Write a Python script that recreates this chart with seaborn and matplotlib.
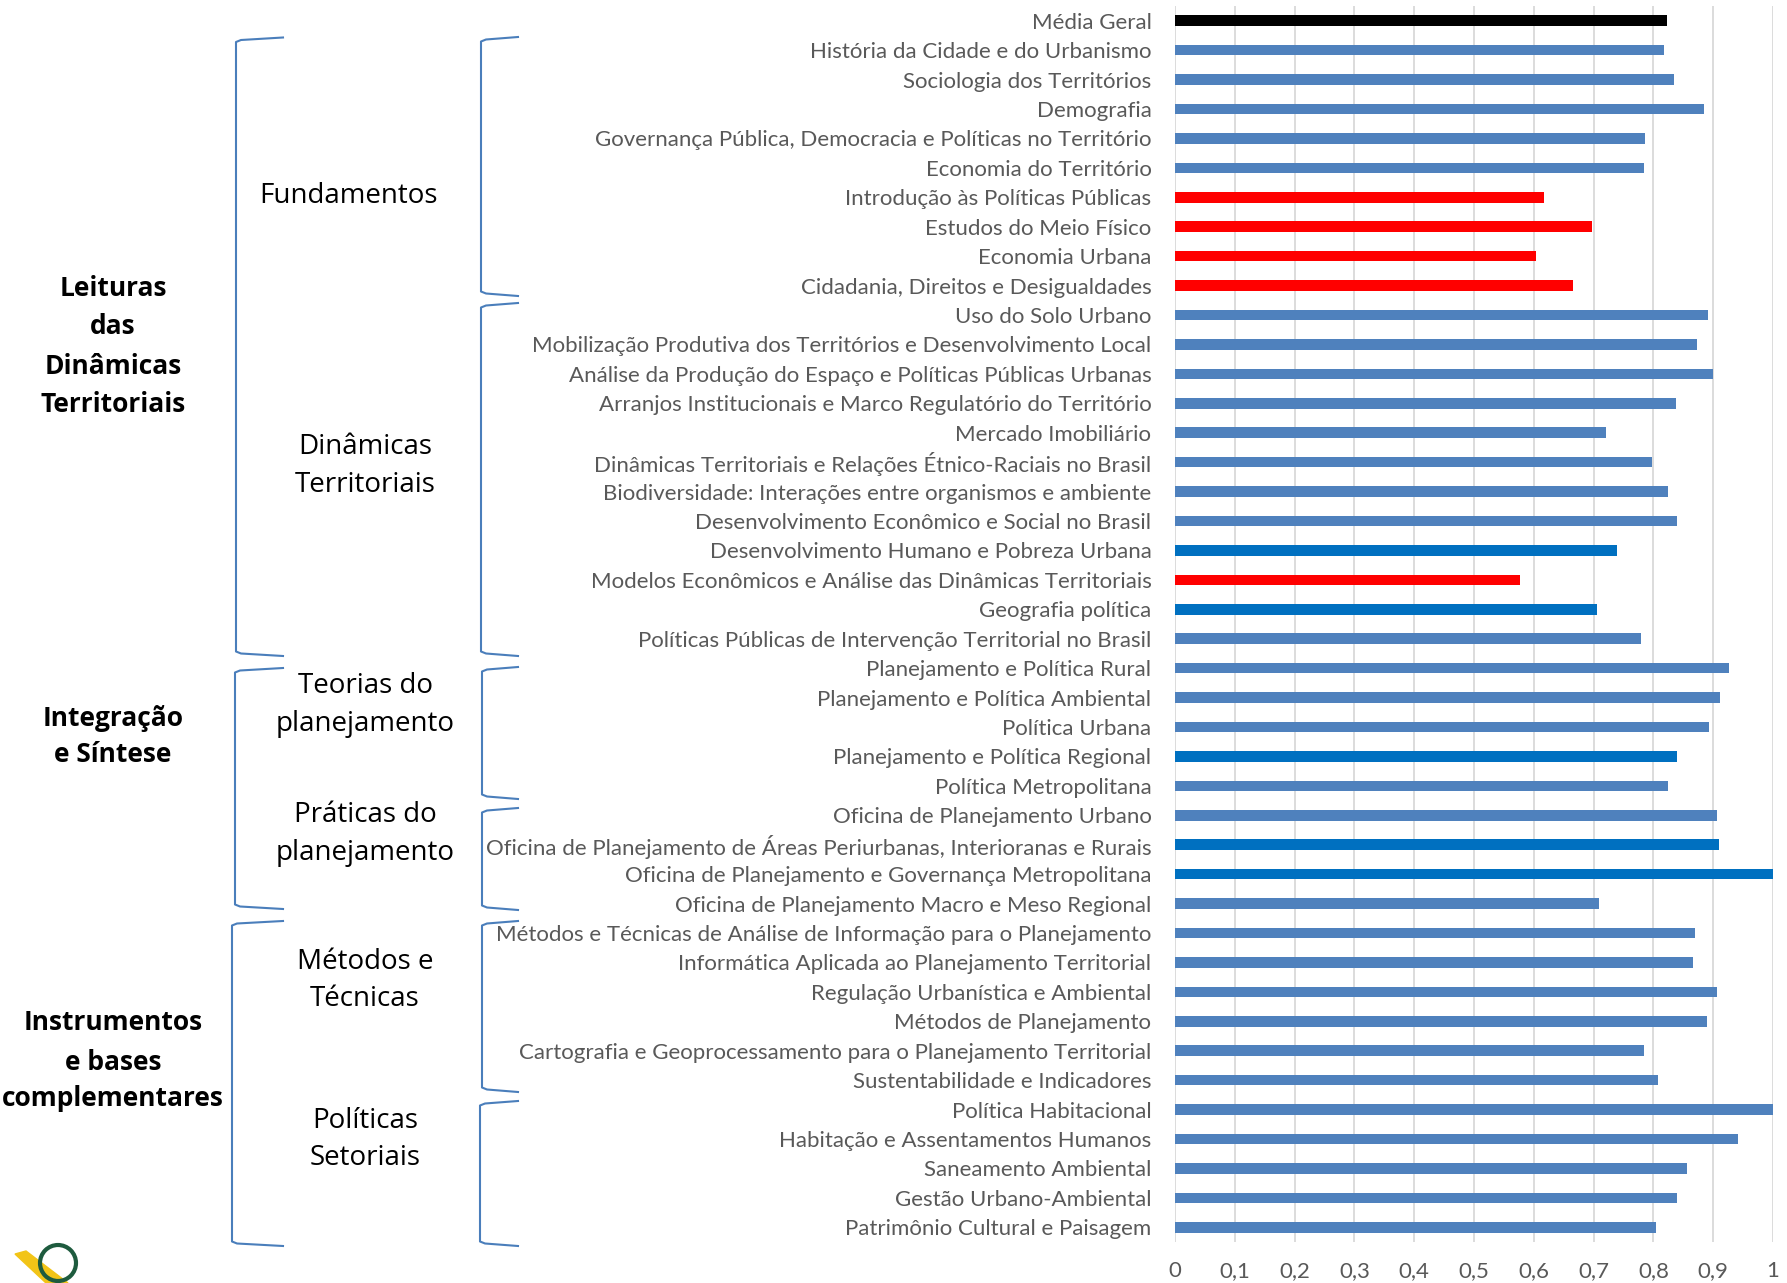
import numpy as np
import pandas as pd
import matplotlib
matplotlib.use("Agg")
import matplotlib.pyplot as plt
import seaborn as sns
from matplotlib.lines import Line2D
from matplotlib.patches import Circle, Polygon
from matplotlib.transforms import Affine2D

disciplinas = [
    "Média Geral",
    "História da Cidade e do Urbanismo",
    "Sociologia dos Territórios",
    "Demografia",
    "Governança Pública, Democracia e Políticas no Território",
    "Economia do Território",
    "Introdução às Políticas Públicas",
    "Estudos do Meio Físico",
    "Economia Urbana",
    "Cidadania, Direitos e Desigualdades",
    "Uso do Solo Urbano",
    "Mobilização Produtiva dos Territórios e Desenvolvimento Local",
    "Análise da Produção do Espaço e Políticas Públicas Urbanas",
    "Arranjos Institucionais e Marco Regulatório do Território",
    "Mercado Imobiliário",
    "Dinâmicas Territoriais e Relações Étnico-Raciais no Brasil",
    "Biodiversidade: Interações entre organismos e ambiente",
    "Desenvolvimento Econômico e Social no Brasil",
    "Desenvolvimento Humano e Pobreza Urbana",
    "Modelos Econômicos e Análise das Dinâmicas Territoriais",
    "Geografia política",
    "Políticas Públicas de Intervenção Territorial no Brasil",
    "Planejamento e Política Rural",
    "Planejamento e Política Ambiental",
    "Política Urbana",
    "Planejamento e Política Regional",
    "Política Metropolitana",
    "Oficina de Planejamento Urbano",
    "Oficina de Planejamento de Áreas Periurbanas, Interioranas e Rurais",
    "Oficina de Planejamento e Governança Metropolitana",
    "Oficina de Planejamento Macro e Meso Regional",
    "Métodos e Técnicas de Análise de Informação para o Planejamento",
    "Informática Aplicada ao Planejamento Territorial",
    "Regulação Urbanística e Ambiental",
    "Métodos de Planejamento",
    "Cartografia e Geoprocessamento para o Planejamento Territorial",
    "Sustentabilidade e Indicadores",
    "Política Habitacional",
    "Habitação e Assentamentos Humanos",
    "Saneamento Ambiental",
    "Gestão Urbano-Ambiental",
    "Patrimônio Cultural e Paisagem",
]

notas = [
    0.823, 0.817, 0.835, 0.885, 0.786, 0.785, 0.617, 0.698, 0.603, 0.665,
    0.891, 0.873, 0.900, 0.838, 0.721, 0.798, 0.824, 0.840, 0.739, 0.577,
    0.705, 0.779, 0.926, 0.912, 0.893, 0.839, 0.824, 0.907, 0.910, 1.000,
    0.709, 0.869, 0.867, 0.906, 0.889, 0.784, 0.808, 1.000, 0.941, 0.857,
    0.840, 0.804,
]

# m = média, a = azul, e = azul escuro, v = vermelho
tipo = list("maaaaavvvvaaaaaaaaeveaaaaeaaeeaaaaaaaaaaaa")
paleta = {"m": "#000000", "a": "#4F81BD", "e": "#0070C0", "v": "#FF0000"}

xticks = np.round(np.arange(0, 1.01, 0.1), 1)
xticklabels = ["0", "0,1", "0,2", "0,3", "0,4", "0,5", "0,6", "0,7", "0,8", "0,9", "1"]

df = pd.DataFrame({"disciplina": disciplinas, "nota": notas, "tipo": tipo})
cores = dict(zip(disciplinas, [paleta[t] for t in tipo]))

W, H = 1787, 1283
fig = plt.figure(figsize=(W / 100, H / 100), dpi=100)
fig.patch.set_facecolor("white")
ax = fig.add_axes([1175 / W, 1 - 1242 / H, (1773 - 1175) / W, (1242 - 6) / H])

sns.barplot(data=df, x="nota", y="disciplina", hue="disciplina", palette=cores,
            width=0.36, saturation=1, legend=False, linewidth=0, ax=ax)

ax.set_xlim(0, 1)
ax.set_ylim(len(disciplinas) - 0.5, -0.5)
ax.set_xticks(xticks)
ax.set_xticklabels(xticklabels, fontfamily="Lato")
ax.set_yticks(range(len(disciplinas)))
ax.set_yticklabels(disciplinas, fontfamily="Lato")
ax.set_xlabel("")
ax.set_ylabel("")
ax.grid(axis="x", color="#D9D9D9", lw=1.3)
ax.grid(axis="y", visible=False)
ax.set_axisbelow(True)
for s in ax.spines.values():
    s.set_visible(False)
ax.tick_params(axis="y", length=0, pad=17, labelsize=16, labelcolor="#595959")
ax.tick_params(axis="x", length=0, pad=14, labelsize=16, labelcolor="#595959")

# pixel coords, origin top-left
px = Affine2D().scale(1, -1).translate(0, H)


def chave(xv, xp, y0, y1):
    xs = [xp, xv + 5, xv, xv, xv + 5, xp]
    ys = [y0, y0 + 2.5, y0 + 4.5, y1 - 4.5, y1 - 2.5, y1]
    fig.add_artist(Line2D(xs, ys, color="#4A7EBB", lw=1.5, transform=px))


for xv, y0, y1 in [(236, 37.5, 656), (235, 668, 909), (232, 921, 1246)]:
    chave(xv, 283, y0, y1)
for xv, y0, y1 in [(481, 37, 296), (481, 303, 656), (482, 667, 799),
                   (482, 808, 910), (482, 921, 1092), (480, 1101, 1246)]:
    chave(xv, 518, y0, y1)

grupos = [
    ("Leituras", 289), ("das", 327), ("Dinâmicas", 366), ("Territoriais", 404),
    ("Integração", 718), ("e Síntese", 755),
    ("Instrumentos", 1023), ("e bases", 1062), ("complementares", 1099),
]
for txt, y in grupos:
    fig.text(113, y, txt, transform=px, ha="center", va="center", fontsize=19,
             fontweight="bold", fontfamily="Open Sans", color="black")

subgrupos = [
    ("Fundamentos", 349, 196),
    ("Dinâmicas", 365, 447), ("Territoriais", 365, 485),
    ("Teorias do", 365, 686), ("planejamento", 365, 724),
    ("Práticas do", 365, 815), ("planejamento", 365, 853),
    ("Métodos e", 365, 962), ("Técnicas", 365, 999),
    ("Políticas", 365, 1121), ("Setoriais", 365, 1158),
]
for txt, x, y in subgrupos:
    fig.text(x, y, txt, transform=px, ha="center", va="center", fontsize=20,
             fontfamily="Open Sans", color="black")

# logo (parcialmente cortado)
fig.add_artist(Polygon([[15, 1254], [26, 1251], [68, 1283], [46, 1283]],
                       closed=True, color="#F2C417", transform=px))
fig.add_artist(Circle((58, 1263), 18, fill=False, lw=3, ec="#1E5B3E", transform=px))

fig.savefig("out.png", dpi=100)
